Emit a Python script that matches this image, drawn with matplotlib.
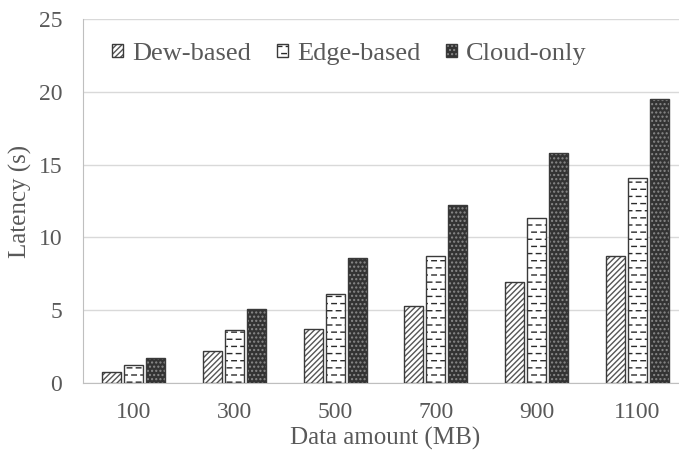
import matplotlib
matplotlib.use("Agg")
import matplotlib.pyplot as plt
import matplotlib.hatch as mhatch
from matplotlib.path import Path
import numpy as np

categories = ["100", "300", "500", "700", "900", "1100"]
series_names = ["Dew-based", "Edge-based", "Cloud-only"]
dew = [0.7, 2.2, 3.7, 5.3, 6.9, 8.7]
edge = [1.2, 3.6, 6.1, 8.7, 11.3, 14.1]
cloud = [1.7, 5.1, 8.6, 12.2, 15.8, 19.5]
yticks = [0, 5, 10, 15, 20, 25]


# custom "short staggered dashes" hatch, used in place of the plain '-' hatch
class DashHatch(mhatch.HatchPatternBase):
    def __init__(self, hatch, density):
        n = hatch.count('-')
        self.rows = 14 if n else 0
        self.cols = 11 if n else 0
        self.num_vertices = self.rows * self.cols * 2

    def set_vertices_and_codes(self, vertices, codes):
        k = 0
        dl = 0.045
        for r in range(self.rows):
            y = (r + 0.5) / self.rows
            shift = 0.5 / self.cols if r % 2 else 0.0
            for c in range(self.cols):
                x0 = c / self.cols + shift
                vertices[k] = (x0, y)
                vertices[k + 1] = (x0 + dl, y)
                codes[k] = Path.MOVETO
                codes[k + 1] = Path.LINETO
                k += 2


mhatch._hatch_types = [DashHatch if t is mhatch.HorizontalHatch else t
                       for t in mhatch._hatch_types]

plt.rcParams['font.family'] = ['Liberation Serif', 'DejaVu Serif']
plt.rcParams['hatch.linewidth'] = 1.0
text_color = '#595959'

fig = plt.figure(figsize=(6.79, 4.61), dpi=100)
ax = fig.add_axes([0.1222, 0.170, 0.891, 0.788])

x = np.arange(len(categories))
w = 0.188
off = 0.218
styles = [
    dict(face='white', hatch='//////', hcol='#555555'),
    dict(face='white', hatch='-', hcol='#2a2a2a'),
    dict(face='#333333', hatch='....', hcol='#8a8a8a'),
]
handles = []
for i, (vals, st, name) in enumerate(zip([dew, edge, cloud], styles, series_names)):
    pos = x + (i - 1) * off
    ax.bar(pos, vals, w, color=st['face'], hatch=st['hatch'], edgecolor=st['hcol'],
           linewidth=0, zorder=3)
    ax.bar(pos, vals, w, color='none', edgecolor='#3a3a3a', linewidth=1.0, zorder=4)
    h1 = plt.Rectangle((0, 0), 1, 1, facecolor=st['face'], hatch=st['hatch'],
                       edgecolor=st['hcol'], linewidth=0)
    h2 = plt.Rectangle((0, 0), 1, 1, facecolor='none', edgecolor='#3a3a3a', linewidth=1.0)
    handles.append((h1, h2))

ax.set_ylim(0, 25)
ax.set_xlim(-0.5, len(categories) - 0.5)
ax.set_yticks(yticks)
ax.set_xticks(x)
ax.set_xticklabels(categories)
ax.yaxis.grid(True, color='#d9d9d9', linewidth=1, zorder=0)
ax.set_axisbelow(True)
for s in ['top', 'right']:
    ax.spines[s].set_visible(False)
for s in ['left', 'bottom']:
    ax.spines[s].set_color('#bfbfbf')
ax.tick_params(axis='both', length=0, labelsize=17, colors=text_color)
ax.tick_params(axis='x', pad=14)
ax.tick_params(axis='y', pad=15)
ax.set_xlabel("Data amount (MB)", fontsize=18, color=text_color, labelpad=3)
ax.set_ylabel("Latency (s)", fontsize=18, color=text_color, labelpad=5)

leg = ax.legend(handles, series_names, loc='center left', ncol=3, frameon=False,
                fontsize=19, bbox_to_anchor=(0.048, 0.905), handlelength=0.42,
                handleheight=0.42, handletextpad=0.34, columnspacing=0.98,
                labelcolor=text_color, borderaxespad=0, borderpad=0)

fig.savefig("out.png", dpi=100)
